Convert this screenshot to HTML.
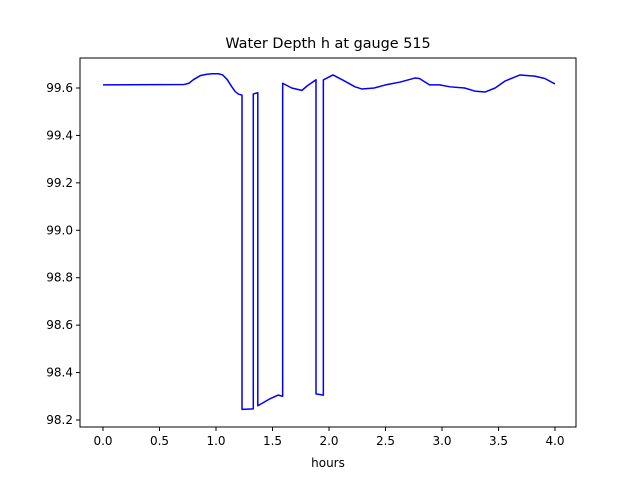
<!DOCTYPE html>
<html><head><meta charset="utf-8"><style>
body{margin:0;background:#fff;}
svg{display:block;font-family:"DejaVu Sans","Liberation Sans",sans-serif;}
</style></head><body>
<svg id="chart" width="640" height="480" viewBox="0 0 640 480"></svg>
<script>
const hours=[0,0.72,0.76,0.8,0.86,0.92,0.965,1.02,1.06,1.1,1.14,1.17,1.2,1.23,1.23,1.33,1.33,1.37,1.37,1.48,1.55,1.59,1.59,1.67,1.76,1.81,1.885,1.885,1.95,1.95,2.035,2.12,2.23,2.29,2.4,2.5,2.63,2.76,2.8,2.89,2.98,3.07,3.2,3.29,3.38,3.47,3.56,3.69,3.82,3.91,4.0];
const depth=[99.613,99.615,99.62,99.635,99.652,99.658,99.66,99.66,99.655,99.635,99.605,99.585,99.574,99.57,98.245,98.247,99.575,99.58,98.26,98.29,98.305,98.3,99.62,99.6,99.59,99.61,99.635,98.31,98.305,99.634,99.655,99.634,99.605,99.596,99.6,99.613,99.625,99.642,99.64,99.613,99.613,99.605,99.6,99.587,99.583,99.6,99.63,99.655,99.65,99.64,99.617];
const xTicks=[0,0.5,1,1.5,2,2.5,3,3.5,4];
const yTicks=[98.2,98.4,98.6,98.8,99.0,99.2,99.4,99.6];
const L=80,R=576,T=58,B=427;
const x=v=>103+v*113;
const y=v=>88-(v-99.6)*237.14;
const svg=document.getElementById('chart');
const NS='http://www.w3.org/2000/svg';
function mk(tag,attrs,parent){const e=document.createElementNS(NS,tag);for(const k in attrs)e.setAttribute(k,attrs[k]);(parent||svg).appendChild(e);return e;}
const title=mk('text',{x:328,y:48,'text-anchor':'middle','font-size':14.4,fill:'#000'});
title.textContent='Water Depth h at gauge 515';


const line=mk('polyline',{points:hours.map((h,i)=>x(h)+','+y(depth[i])).join(' '),fill:'none',stroke:'#0000ff','stroke-width':1.5,'stroke-linejoin':'round'});


const frame=mk('rect',{x:L,y:T,width:R-L,height:B-T,fill:'none',stroke:'#000','stroke-width':1});


xTicks.forEach(t=>{
 const g=mk('g',{});
 
 
 mk('line',{x1:x(t),x2:x(t),y1:B,y2:B+4,stroke:'#000'},g);
 const tx=mk('text',{x:x(t),y:B+18,'text-anchor':'middle','font-size':12,fill:'#000'},g);
 tx.textContent=t.toFixed(1);
});
yTicks.forEach(t=>{
 const g=mk('g',{});
 
 
 mk('line',{x1:L-4,x2:L,y1:y(t),y2:y(t),stroke:'#000'},g);
 const tx=mk('text',{x:L-7,y:y(t)+4,'text-anchor':'end','font-size':12,fill:'#000'},g);
 tx.textContent=t.toFixed(1);
});
const xl=mk('text',{x:328,y:467,'text-anchor':'middle','font-size':12,fill:'#000'});
xl.textContent='hours';


</script>
</body></html>
